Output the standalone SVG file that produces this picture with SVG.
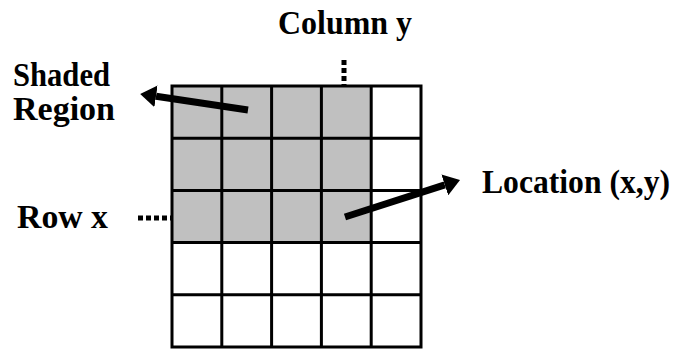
<svg xmlns="http://www.w3.org/2000/svg" width="677" height="349" viewBox="0 0 677 349">
<style>
text{font-family:"Liberation Serif","Times New Roman",serif;font-weight:bold;font-size:33px;fill:#000}
.g{stroke:#000;stroke-width:3;fill:none}
.arr{stroke:#000;stroke-width:7;fill:none}
.dot{stroke:#000;stroke-width:5;fill:none}
</style>
<defs>
<marker id="head" markerUnits="userSpaceOnUse" viewBox="0 0 16 22" refX="0" refY="11" markerWidth="16" markerHeight="22" orient="auto">
<path d="M0,0 L16,11 L0,22 z" fill="#000"/>
</marker>
</defs>
<rect width="677" height="349" fill="#fff"/>
<g id="grid">
<rect x="172" y="86" width="199.2" height="156.6" fill="#c0c0c0"/>
<path class="g" d="M172,86V347M221.8,86V347M271.6,86V347M321.4,86V347M371.2,86V347M421,86V347M170.5,86H422.5M170.5,138.2H422.5M170.5,190.4H422.5M170.5,242.6H422.5M170.5,294.8H422.5M170.5,347H422.5"/>
</g>
<g id="label-column"><text x="278" y="34" textLength="134" lengthAdjust="spacingAndGlyphs">Column y</text></g>
<g id="label-shaded"><text x="13" y="86" textLength="97" lengthAdjust="spacingAndGlyphs">Shaded</text><text x="13" y="120" textLength="102" lengthAdjust="spacingAndGlyphs">Region</text></g>
<g id="label-row"><text x="17" y="228" textLength="91" lengthAdjust="spacingAndGlyphs">Row x</text></g>
<g id="label-location"><text x="482" y="193" textLength="188" lengthAdjust="spacingAndGlyphs">Location (x,y)</text></g>
<g id="connectors">
<path class="dot" d="M344,60V86" stroke-dasharray="5 3"/>
<path class="dot" d="M138,218H172" stroke-dasharray="5 3"/>
<path class="arr" d="M248,110L156,96.3" marker-end="url(#head)"/>
<path class="arr" d="M345,217L444.8,184.9" marker-end="url(#head)"/>
</g>
</svg>
